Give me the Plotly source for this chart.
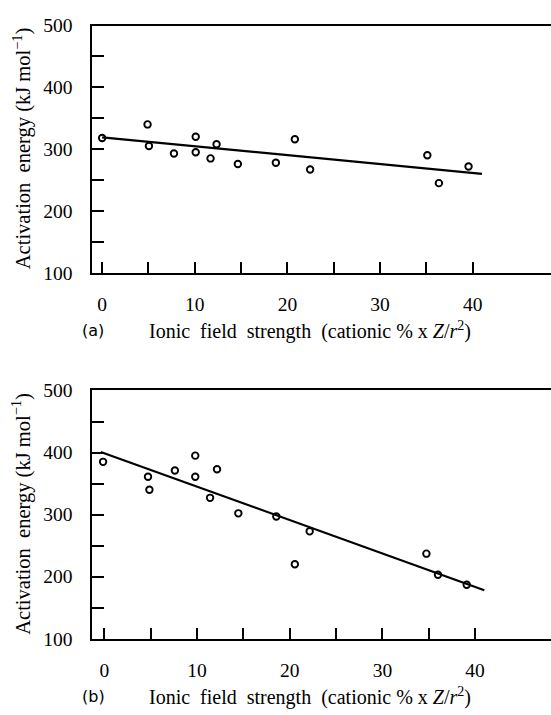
import plotly.graph_objects as go

# Panel (a): measured activation energies vs ionic field strength
field_a = [0, 4.9, 5.05, 7.75, 10.1, 10.1, 11.7, 12.35, 14.65, 18.75, 20.8, 22.45, 35.1, 36.35, 39.55]
energy_a = [318, 340, 305, 293, 320, 295, 285, 308, 276, 278, 316, 267, 290, 245, 272]
fit_a_x = [0, 41]
fit_a_y = [319, 260]

# Panel (b)
field_b = [-0.15, 4.7, 4.85, 7.6, 9.8, 9.8, 11.4, 12.15, 14.45, 18.55, 20.55, 22.15, 34.75, 36.0, 39.1]
energy_b = [385, 361, 340, 371, 395, 361, 327, 373, 302, 297, 220, 273, 237, 203, 187]
fit_b_x = [-0.4, 41]
fit_b_y = [401, 178]

x_major = [0, 10, 20, 30, 40]
x_minor = [5, 15, 25, 35]
y_major = [100, 200, 300, 400, 500]
y_minor = [150, 250, 350, 450]

SERIF = "Liberation Serif, Times New Roman, serif"
W, H = 551, 715
FS = 19.5

fig = go.Figure()

marker = dict(symbol="circle-open", size=6.5, color="black", line=dict(width=1.9, color="black"))
for xs, ys, fx, fy, xa, ya in [
    (field_a, energy_a, fit_a_x, fit_a_y, "x", "y"),
    (field_b, energy_b, fit_b_x, fit_b_y, "x2", "y2"),
]:
    fig.add_trace(go.Scatter(x=fx, y=fy, mode="lines", line=dict(color="black", width=2.2),
                             xaxis=xa, yaxis=ya, showlegend=False, hoverinfo="skip"))
    fig.add_trace(go.Scatter(x=xs, y=ys, mode="markers", marker=marker,
                             xaxis=xa, yaxis=ya, showlegend=False))


def xaxis_cfg(domain_y_anchor, rng):
    return dict(
        domain=[91.5 / W, 1.0], range=rng, anchor=domain_y_anchor,
        showgrid=False, zeroline=False, showline=True, linecolor="black", linewidth=2,
        mirror=True, ticks="inside", ticklen=11, tickwidth=1.6, tickcolor="black",
        tickmode="array", tickvals=x_major,
        minor=dict(tickmode="array", tickvals=x_minor, ticks="inside", ticklen=11,
                   tickwidth=1.6, tickcolor="black", showgrid=False),
        tickfont=dict(family=SERIF, size=FS, color="black"), ticklabelstandoff=13,
    )


def yaxis_cfg(domain, anchor):
    return dict(
        domain=domain, range=[100, 500], anchor=anchor,
        showgrid=False, zeroline=False, showline=True, linecolor="black", linewidth=2,
        ticks="inside", ticklen=12, tickwidth=1.6, tickcolor="black",
        tickmode="array", tickvals=y_major,
        minor=dict(tickmode="array", tickvals=y_minor, ticks="inside", ticklen=12,
                   tickwidth=1.6, tickcolor="black", showgrid=False),
        tickfont=dict(family=SERIF, size=FS, color="black"), ticklabelstandoff=13,
    )


fig.update_layout(
    width=W, height=H, margin=dict(l=0, r=0, t=0, b=0),
    paper_bgcolor="white", plot_bgcolor="white",
    xaxis=xaxis_cfg("y", [-1.15, 48.45]),
    yaxis=yaxis_cfg([1 - 270.7 / H, 1 - 16 / H], "x"),
    xaxis2=xaxis_cfg("y2", [-1.4, 48.2]),
    yaxis2=yaxis_cfg([1 - 647.7 / H, 1 - 392 / H], "x2"),
)

ylabel = "Activation\u00a0 energy (kJ mol<sup>−1</sup>)"
xlabel = "Ionic\u00a0 field\u00a0 strength\u00a0 (cationic % x <i>Z</i>/<i>r</i><sup>2</sup>)"

annotations = []
for center_y, label_y, tag in [(143.4, 330, "(a)"), (520, 707, "(b)")]:
    annotations.append(dict(text=ylabel, textangle=-90, x=22 / W, y=1 - center_y / H,
                            xref="paper", yref="paper", showarrow=False,
                            font=dict(family=SERIF, size=20.5, color="black"),
                            xanchor="center", yanchor="middle"))
    annotations.append(dict(text=tag, x=93 / W, y=1 - label_y / H, xref="paper", yref="paper",
                            showarrow=False, xanchor="center", yanchor="middle",
                            font=dict(family="DejaVu Sans, sans-serif", size=16, color="black")))
    annotations.append(dict(text=xlabel, x=147 / W, y=1 - label_y / H, xref="paper", yref="paper",
                            showarrow=False, xanchor="left", yanchor="middle",
                            font=dict(family=SERIF, size=20, color="black")))
fig.update_layout(annotations=annotations)

fig.write_html("out.html")
